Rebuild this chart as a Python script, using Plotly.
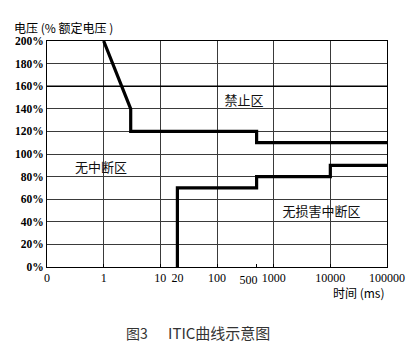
import plotly.graph_objects as go

# ITIC curve data (time in ms, voltage in % of rated)
upper_time = [1, 3, 3, 500, 500, 100000]
upper_volt = [200, 140, 120, 120, 110, 110]
lower_time = [20, 20, 500, 500, 10000, 10000, 100000]
lower_volt = [0, 70, 70, 80, 80, 90, 90]

x_tick_vals = [0.1, 1, 10, 20, 100, 1000, 10000, 100000]
x_tick_text = ["0", "1", "10", "20", "100", "1000", "10000", "100000"]
x_mid_tick_vals = [500]
x_mid_tick_text = ["500"]
x_grid_vals = [1, 10, 100, 1000, 10000]
y_tick_vals = [0, 20, 40, 60, 80, 100, 120, 140, 160, 180, 200]
y_tick_text = [f"{v}%" for v in y_tick_vals]

region_labels = ["禁止区", "无中断区", "无损害中断区"]
region_time = [300, 0.9, 7000]
region_volt = [146, 87, 48]

SERIF = "Liberation Serif, DejaVu Serif, serif"
CJK = "Noto Sans CJK SC, sans-serif"

fig = go.Figure()

# invisible traces to activate the overlay axes
fig.add_trace(go.Scatter(x=[1, 10], y=[0, 0], xaxis="x2", mode="lines",
                         line=dict(width=0), hoverinfo="skip", showlegend=False))
fig.add_trace(go.Scatter(x=[1, 10], y=[0, 0], xaxis="x3", mode="lines",
                         line=dict(width=0), hoverinfo="skip", showlegend=False))

fig.add_trace(go.Scatter(x=upper_time, y=upper_volt, mode="lines",
                         line=dict(color="black", width=3.2), showlegend=False))
fig.add_trace(go.Scatter(x=lower_time, y=lower_volt, mode="lines",
                         line=dict(color="black", width=3.2), showlegend=False))

fig.add_trace(go.Scatter(x=region_time, y=region_volt, mode="text",
                         text=region_labels,
                         textfont=dict(family=CJK, size=13, color="#111"),
                         showlegend=False))

tickfont_x = dict(family=SERIF, size=12, color="black")

fig.update_layout(
    width=409, height=351,
    margin=dict(l=39, r=30, t=33, b=92, autoexpand=False),
    paper_bgcolor="white", plot_bgcolor="white",
    xaxis=dict(type="log", range=[-1, 5], tickvals=x_tick_vals, ticktext=x_tick_text,
               tickangle=0, automargin=False,
               showgrid=False, zeroline=False, showline=True, linecolor="black",
               linewidth=1, mirror=True, ticks="inside", ticklen=3, tickcolor="black",
               tickfont=tickfont_x),
    xaxis2=dict(type="log", range=[-1, 5], overlaying="x", tickvals=x_grid_vals,
                showgrid=True, gridcolor="#3a3a3a", gridwidth=1, automargin=False,
                showticklabels=False, ticks="", showline=False, zeroline=False),
    xaxis3=dict(type="log", range=[-1, 5], overlaying="x", side="bottom",
                tickvals=x_mid_tick_vals, ticktext=x_mid_tick_text, tickangle=0,
                ticklabelshift=-8, ticklabelstandoff=4, automargin=False,
                showgrid=False, showline=False, zeroline=False,
                ticks="inside", ticklen=3, tickcolor="black", tickfont=tickfont_x),
    yaxis=dict(range=[0, 200], tickvals=y_tick_vals, ticktext=y_tick_text,
               automargin=False,
               showgrid=True, gridcolor="#3a3a3a", gridwidth=1, zeroline=False,
               showline=True, linecolor="black", linewidth=1, mirror=True,
               ticks="", tickfont=dict(family=SERIF, size=11.5, color="black", weight="bold")),
    annotations=[
        dict(text="电压 (% 额定电压 )", xref="paper", yref="paper", x=-0.103, y=1.06,
             xanchor="left", yanchor="middle", showarrow=False,
             font=dict(family=CJK, size=12, color="black")),
        dict(text="时间 (ms)", xref="paper", yref="paper", x=1.0, y=-0.115,
             xanchor="right", yanchor="middle", showarrow=False,
             font=dict(family=CJK, size=12, color="black")),
        dict(text="图3", xref="paper", yref="paper", x=0.226, y=-0.292,
             xanchor="left", yanchor="middle", showarrow=False,
             font=dict(family=CJK, size=14, color="#333")),
        dict(text="ITIC曲线示意图", xref="paper", yref="paper", x=0.35, y=-0.292,
             xanchor="left", yanchor="middle", showarrow=False,
             font=dict(family=CJK, size=15, color="#333")),
    ],
)

# emphasised 160% line as in the reference
fig.add_hline(y=160, line=dict(color="black", width=1.6))

fig.write_html("out.html")
